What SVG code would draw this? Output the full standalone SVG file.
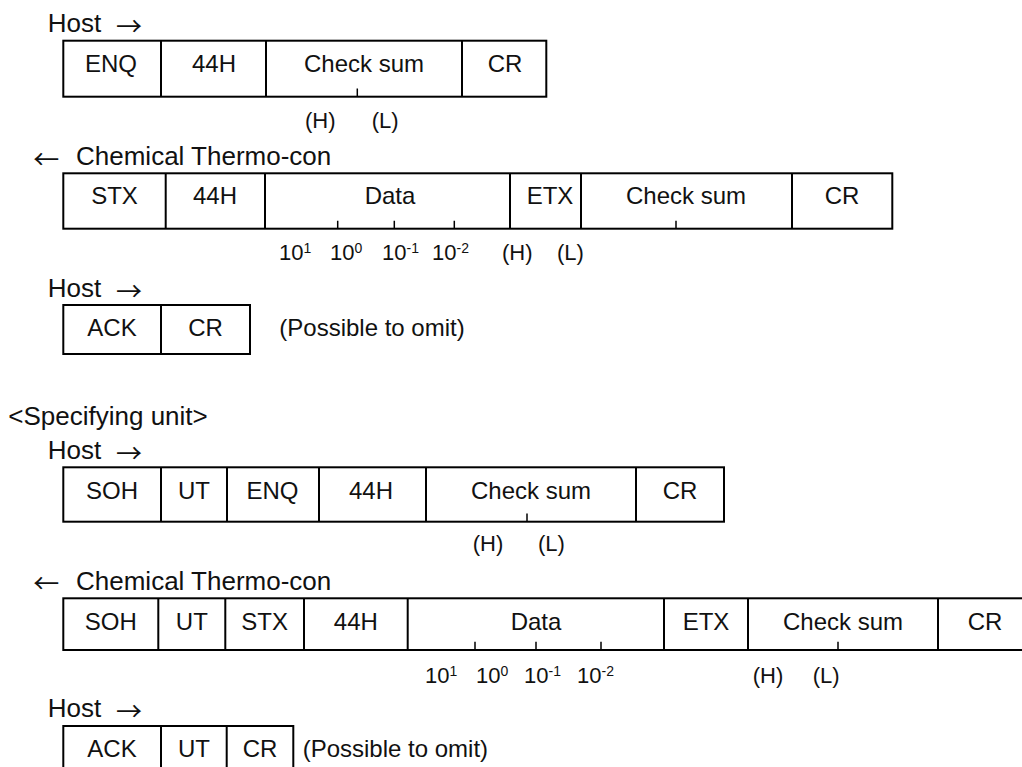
<svg xmlns="http://www.w3.org/2000/svg" width="1022" height="767" viewBox="0 0 1022 767">
<style>
text { font-family: "Liberation Sans", Arial, Helvetica, sans-serif; fill: #111; }
.hd { font-size: 26px; }
.ar { font-family: "Noto Sans CJK JP", "DejaVu Sans", sans-serif; font-size: 26px; }
.lb { font-size: 24px; text-anchor: middle; }
.hl { font-size: 22px; }
.nm { font-size: 22px; }
.sp { font-size: 14px; }
.note { font-size: 24px; }
.box { fill: none; stroke: #000; stroke-width: 2; }
.dv { stroke: #000; stroke-width: 2; }
.tk { stroke: #000; stroke-width: 1.5; }
</style>
<rect width="1022" height="767" fill="#fff"/>

<g id="headings">
  <text class="hd" x="47.7" y="32.3">Host</text><text class="ar" x="116" y="36">→</text>
  <text class="ar" x="33.3" y="169">←</text><text class="hd" x="76" y="165">Chemical Thermo-con</text>
  <text class="hd" x="47.7" y="297.3">Host</text><text class="ar" x="116" y="301">→</text>
  <text class="hd" x="8.3" y="425">&lt;Specifying unit&gt;</text>
  <text class="hd" x="47.7" y="459.3">Host</text><text class="ar" x="116" y="463">→</text>
  <text class="ar" x="33.3" y="593">←</text><text class="hd" x="76" y="590">Chemical Thermo-con</text>
  <text class="hd" x="47.7" y="717.3">Host</text><text class="ar" x="116" y="721">→</text>
</g>

<g id="frame1">
  <rect class="box" x="63.3" y="40.7" width="483" height="56"/>
  <path class="dv" d="M161 40.7V96.7M266 40.7V96.7M462 40.7V96.7"/>
  <path class="tk" d="M357.3 88.5V96.7"/>
  <text class="lb" x="111" y="72">ENQ</text>
  <text class="lb" x="214" y="72">44H</text>
  <text class="lb" x="364" y="72">Check sum</text>
  <text class="lb" x="505" y="72">CR</text>
  <text class="hl" x="305" y="128">(H)</text>
  <text class="hl" x="371.7" y="128">(L)</text>
</g>

<g id="frame2">
  <rect class="box" x="63.3" y="173.3" width="829" height="55.4"/>
  <path class="dv" d="M165.7 173.3V228.7M265 173.3V228.7M510 173.3V228.7M581 173.3V228.7M792 173.3V228.7"/>
  <path class="tk" d="M337.7 220.7V228.7M394.3 220.7V228.7M454.3 220.7V228.7M676 220.7V228.7"/>
  <text class="lb" x="114.5" y="204">STX</text>
  <text class="lb" x="215" y="204">44H</text>
  <text class="lb" x="390" y="204">Data</text>
  <text class="lb" x="550" y="204">ETX</text>
  <text class="lb" x="686" y="204">Check sum</text>
  <text class="lb" x="842" y="204">CR</text>
  <text class="nm" x="279" y="260">10<tspan class="sp" dy="-7">1</tspan></text>
  <text class="nm" x="330" y="260">10<tspan class="sp" dy="-7">0</tspan></text>
  <text class="nm" x="382" y="260">10<tspan class="sp" dy="-7">-1</tspan></text>
  <text class="nm" x="432" y="260">10<tspan class="sp" dy="-7">-2</tspan></text>
  <text class="hl" x="502" y="260">(H)</text>
  <text class="hl" x="557" y="260">(L)</text>
</g>

<g id="frame3">
  <rect class="box" x="63.3" y="305" width="186.7" height="49"/>
  <path class="dv" d="M161 305V354"/>
  <text class="lb" x="112" y="336">ACK</text>
  <text class="lb" x="205.5" y="336">CR</text>
  <text class="note" x="279.3" y="336">(Possible to omit)</text>
</g>

<g id="frame4">
  <rect class="box" x="63.3" y="467.3" width="660.7" height="54.4"/>
  <path class="dv" d="M161 467.3V521.7M227 467.3V521.7M319 467.3V521.7M426 467.3V521.7M636 467.3V521.7"/>
  <path class="tk" d="M527 513.5V521.7"/>
  <text class="lb" x="112" y="498.5">SOH</text>
  <text class="lb" x="194" y="498.5">UT</text>
  <text class="lb" x="272.5" y="498.5">ENQ</text>
  <text class="lb" x="371" y="498.5">44H</text>
  <text class="lb" x="531" y="498.5">Check sum</text>
  <text class="lb" x="680" y="498.5">CR</text>
  <text class="hl" x="472.7" y="551">(H)</text>
  <text class="hl" x="538" y="551">(L)</text>
</g>

<g id="frame5">
  <rect class="box" x="63.3" y="598.3" width="968.7" height="51.7"/>
  <path class="dv" d="M158.3 598.3V650M225.3 598.3V650M304 598.3V650M407.7 598.3V650M664 598.3V650M748 598.3V650M938 598.3V650"/>
  <path class="tk" d="M475 641.7V650M536 641.7V650M601 641.7V650M838 641.7V650"/>
  <text class="lb" x="110.8" y="629.5">SOH</text>
  <text class="lb" x="191.8" y="629.5">UT</text>
  <text class="lb" x="264.7" y="629.5">STX</text>
  <text class="lb" x="355.8" y="629.5">44H</text>
  <text class="lb" x="536" y="629.5">Data</text>
  <text class="lb" x="706" y="629.5">ETX</text>
  <text class="lb" x="843" y="629.5">Check sum</text>
  <text class="lb" x="985" y="629.5">CR</text>
  <text class="nm" x="425" y="683">10<tspan class="sp" dy="-7">1</tspan></text>
  <text class="nm" x="476" y="683">10<tspan class="sp" dy="-7">0</tspan></text>
  <text class="nm" x="524" y="683">10<tspan class="sp" dy="-7">-1</tspan></text>
  <text class="nm" x="577" y="683">10<tspan class="sp" dy="-7">-2</tspan></text>
  <text class="hl" x="752.7" y="683">(H)</text>
  <text class="hl" x="812.7" y="683">(L)</text>
</g>

<g id="frame6">
  <rect class="box" x="63.3" y="726" width="230" height="60"/>
  <path class="dv" d="M161 726V786M226.7 726V786"/>
  <text class="lb" x="112" y="757">ACK</text>
  <text class="lb" x="194" y="757">UT</text>
  <text class="lb" x="260" y="757">CR</text>
  <text class="note" x="302.7" y="757">(Possible to omit)</text>
</g>

<g id="connectors"/>
</svg>
